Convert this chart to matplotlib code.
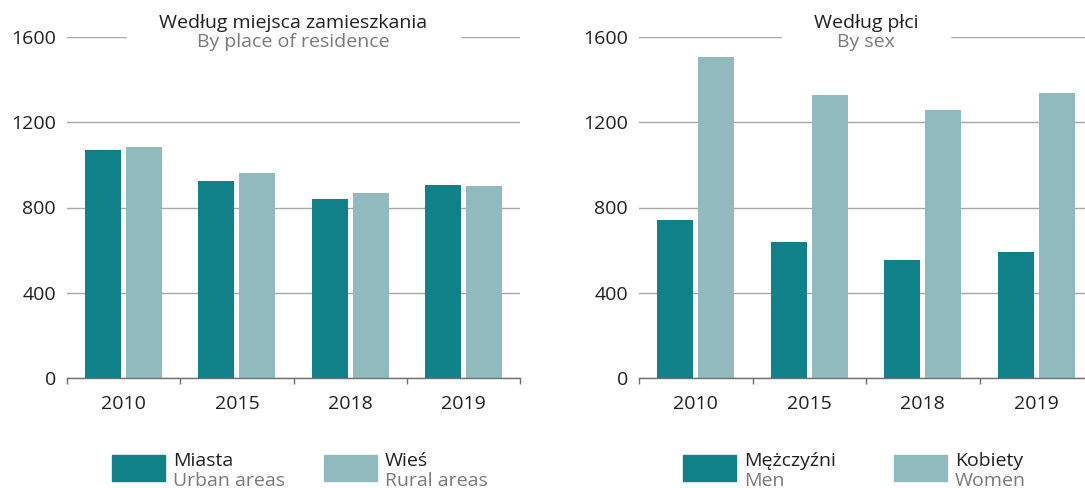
import numpy as np
import matplotlib
matplotlib.use('Agg')
import matplotlib.pyplot as plt
from matplotlib.patches import Rectangle

plt.rcParams['font.family'] = ['Open Sans', 'DejaVu Sans']

# data
years = ['2010', '2015', '2018', '2019']
miasta = [1068, 923, 840, 904]
wies = [1085, 962, 868, 902]
mezczyzni = [743, 640, 554, 593]
kobiety = [1505, 1328, 1256, 1336]
y_ticks = [0, 400, 800, 1200, 1600]

DARK = '#108189'
LIGHT = '#91babf'
TXT = '#231f20'
GREY_TXT = '#7a7a7a'
GRID = '#a8a8a8'
FS = 14

W, H = 1085, 488
fig = plt.figure(figsize=(W / 100, H / 100), dpi=100)


def px(x, y):
    # pixel position (from top left) -> figure fraction
    return x / W, 1 - y / H


def panel(ax, first, second, title_pl, title_en, gap):
    x = np.arange(len(years))
    ax.bar(x - 0.181, first, width=0.318, color=DARK, zorder=2)
    ax.bar(x + 0.181, second, width=0.318, color=LIGHT, zorder=2)
    ax.set_xlim(-0.5, len(years) - 0.5)
    ax.set_ylim(0, 1600)
    ax.set_yticks(y_ticks)
    ax.set_xticks(x)
    ax.set_xticklabels(years)
    ax.set_xticks(np.arange(len(years) + 1) - 0.5, minor=True)
    ax.tick_params(axis='x', which='major', length=0, pad=12, labelsize=FS, labelcolor=TXT)
    ax.tick_params(axis='x', which='minor', length=4, width=1, color='#707070')
    ax.tick_params(axis='y', length=0, pad=8, labelsize=FS, labelcolor=TXT)
    for s in ['left', 'right', 'top']:
        ax.spines[s].set_visible(False)
    ax.spines['bottom'].set_color('#707070')
    ax.spines['bottom'].set_linewidth(1)
    ax.set_axisbelow(True)
    ax.yaxis.grid(True, color=GRID, linewidth=1)
    # break the top gridline under the title
    ax.add_patch(Rectangle((0.5 - gap / 2, 0.985), gap, 0.03, transform=ax.transAxes,
                           color='white', zorder=1.5, clip_on=False))
    # title, two lines (polish black, english grey)
    ax.text(0.5, 1 + 9 / 341, title_pl, transform=ax.transAxes,
            ha='center', va='baseline', fontsize=FS, color=TXT, zorder=5)
    ax.text(0.5, 1 - 10 / 341, title_en, transform=ax.transAxes,
            ha='center', va='baseline', fontsize=FS, color=GREY_TXT, zorder=5)


ax1 = fig.add_axes([67 / W, 110 / H, 453 / W, 341 / H])
ax2 = fig.add_axes([639 / W, 110 / H, 454 / W, 341 / H])

panel(ax1, miasta, wies, 'Według miejsca zamieszkania', 'By place of residence', 333 / 453)
panel(ax2, mezczyzni, kobiety, 'Według płci', 'By sex', 168 / 454)


def legend_item(x, color, pl, en):
    fig.patches.append(Rectangle(px(x, 481), 53 / W, 26 / H, transform=fig.transFigure,
                                 color=color, figure=fig))
    fig.text(*px(x + 61, 466), pl, ha='left', va='baseline', fontsize=FS, color=TXT)
    fig.text(*px(x + 61, 486), en, ha='left', va='baseline', fontsize=FS, color=GREY_TXT)


legend_item(112, DARK, 'Miasta', 'Urban areas')
legend_item(324, LIGHT, 'Wieś', 'Rural areas')
legend_item(683, DARK, 'Mężczyźni', 'Men')
legend_item(894, LIGHT, 'Kobiety', 'Women')

fig.savefig('out.png', dpi=100)
